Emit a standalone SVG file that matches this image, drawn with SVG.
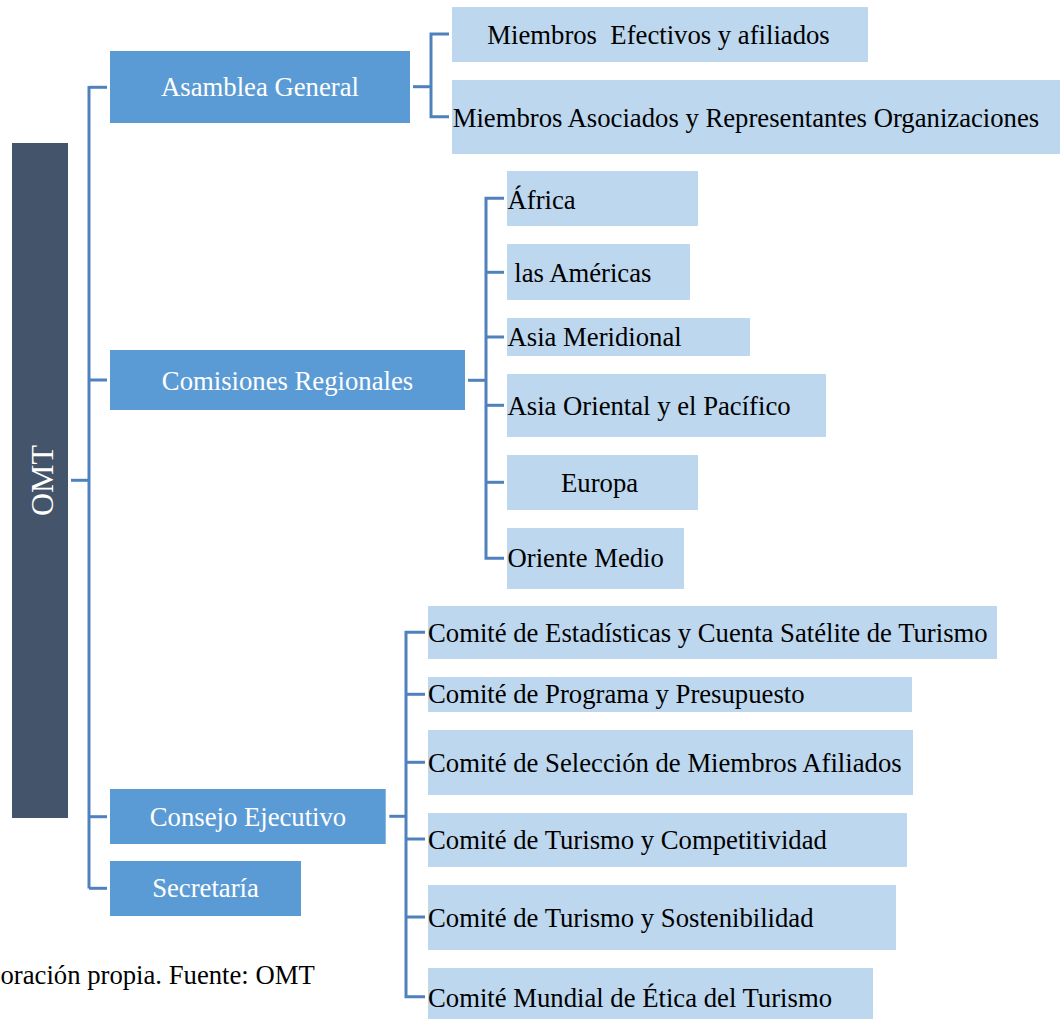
<svg xmlns="http://www.w3.org/2000/svg" width="1060" height="1019" viewBox="0 0 1060 1019">
<style>
text{font-family:"Liberation Serif","Times New Roman",serif;font-size:26.7px}
.root{fill:#44546a}
.mid{fill:#5b9bd5}
.leaf{fill:#bdd7ee}
.wt{fill:#ffffff}
.bt{fill:#000000}
.conn{fill:none;stroke:#4f81bd;stroke-width:3}
</style>
<rect width="1060" height="1019" fill="#ffffff"/>
<g id="connectors" class="conn">
<path d="M89 86 V888.5"/>
<path d="M89 87.3 H107"/>
<path d="M89 380 H107"/>
<path d="M71 480.3 H89"/>
<path d="M89 816.7 H107"/>
<path d="M89 888.3 H107"/>
<path d="M413 86.7 H431"/>
<path d="M449 34 H431 V116.7 H449"/>
<path d="M468 380.3 H486"/>
<path d="M504 198.3 H486 V558.3 H504"/>
<path d="M486 272.3 H504"/>
<path d="M486 337 H504"/>
<path d="M486 405.3 H504"/>
<path d="M486 482.3 H504"/>
<path d="M389.3 816.3 H406"/>
<path d="M425 632.3 H406 V996.7 H425"/>
<path d="M406 694.3 H425"/>
<path d="M406 762.3 H425"/>
<path d="M406 839 H425"/>
<path d="M406 917 H425"/>
</g>
<g id="omt">
<rect class="root" x="12" y="143" width="56" height="675"/>
<text class="wt" text-anchor="middle" transform="translate(52.5 480.5) rotate(-90)" style="font-size:32px">OMT</text>
</g>
<g id="asamblea">
<rect class="mid" x="110" y="51" width="300" height="72"/>
<text class="wt" x="260" y="96" text-anchor="middle">Asamblea General</text>
</g>
<g id="miembros-efectivos">
<rect class="leaf" x="452" y="7" width="416" height="55"/>
<text class="bt" x="487.3" y="44.3" xml:space="preserve">Miembros  Efectivos y afiliados</text>
</g>
<g id="miembros-asociados">
<rect class="leaf" x="452" y="80" width="608" height="74"/>
<text class="bt" x="452.7" y="126.7">Miembros Asociados y Representantes Organizaciones</text>
</g>
<g id="comisiones">
<rect class="mid" x="110" y="350" width="355" height="60"/>
<text class="wt" x="287.5" y="390" text-anchor="middle">Comisiones Regionales</text>
</g>
<g id="africa">
<rect class="leaf" x="507" y="171" width="191" height="55"/>
<text class="bt" x="507.5" y="209.3">África</text>
</g>
<g id="americas">
<rect class="leaf" x="507" y="244" width="183" height="56"/>
<text class="bt" x="514.3" y="282.3">las Américas</text>
</g>
<g id="asia-meridional">
<rect class="leaf" x="507" y="318" width="243" height="38"/>
<text class="bt" x="507.5" y="345.7">Asia Meridional</text>
</g>
<g id="asia-oriental">
<rect class="leaf" x="507" y="374" width="319" height="63"/>
<text class="bt" x="507.5" y="415">Asia Oriental y el Pacífico</text>
</g>
<g id="europa">
<rect class="leaf" x="507" y="455" width="191" height="55"/>
<text class="bt" x="561" y="492.3">Europa</text>
</g>
<g id="oriente-medio">
<rect class="leaf" x="507" y="528" width="177" height="61"/>
<text class="bt" x="507.5" y="567.3">Oriente Medio</text>
</g>
<g id="consejo">
<rect class="mid" x="110" y="789" width="275.7" height="55"/>
<text class="wt" x="248" y="826" text-anchor="middle">Consejo Ejecutivo</text>
</g>
<g id="secretaria">
<rect class="mid" x="110" y="861" width="191" height="55"/>
<text class="wt" x="205.5" y="897.3" text-anchor="middle">Secretaría</text>
</g>
<g id="comite-estadisticas">
<rect class="leaf" x="428" y="606" width="569" height="53"/>
<text class="bt" x="428" y="641.7">Comité de Estadísticas y Cuenta Satélite de Turismo</text>
</g>
<g id="comite-programa">
<rect class="leaf" x="428" y="677" width="484" height="35"/>
<text class="bt" x="428" y="703.3">Comité de Programa y Presupuesto</text>
</g>
<g id="comite-seleccion">
<rect class="leaf" x="428" y="730" width="485" height="65"/>
<text class="bt" x="428" y="771.7">Comité de Selección de Miembros Afiliados</text>
</g>
<g id="comite-competitividad">
<rect class="leaf" x="428" y="813" width="479" height="54"/>
<text class="bt" x="428" y="849">Comité de Turismo y Competitividad</text>
</g>
<g id="comite-sostenibilidad">
<rect class="leaf" x="428" y="885" width="468" height="65"/>
<text class="bt" x="428" y="926.7">Comité de Turismo y Sostenibilidad</text>
</g>
<g id="comite-etica">
<rect class="leaf" x="428" y="968" width="445" height="51"/>
<text class="bt" x="428" y="1006.7">Comité Mundial de Ética del Turismo</text>
</g>
<text class="bt" x="0.5" y="984.3">oración propia. Fuente: OMT</text>
</svg>
